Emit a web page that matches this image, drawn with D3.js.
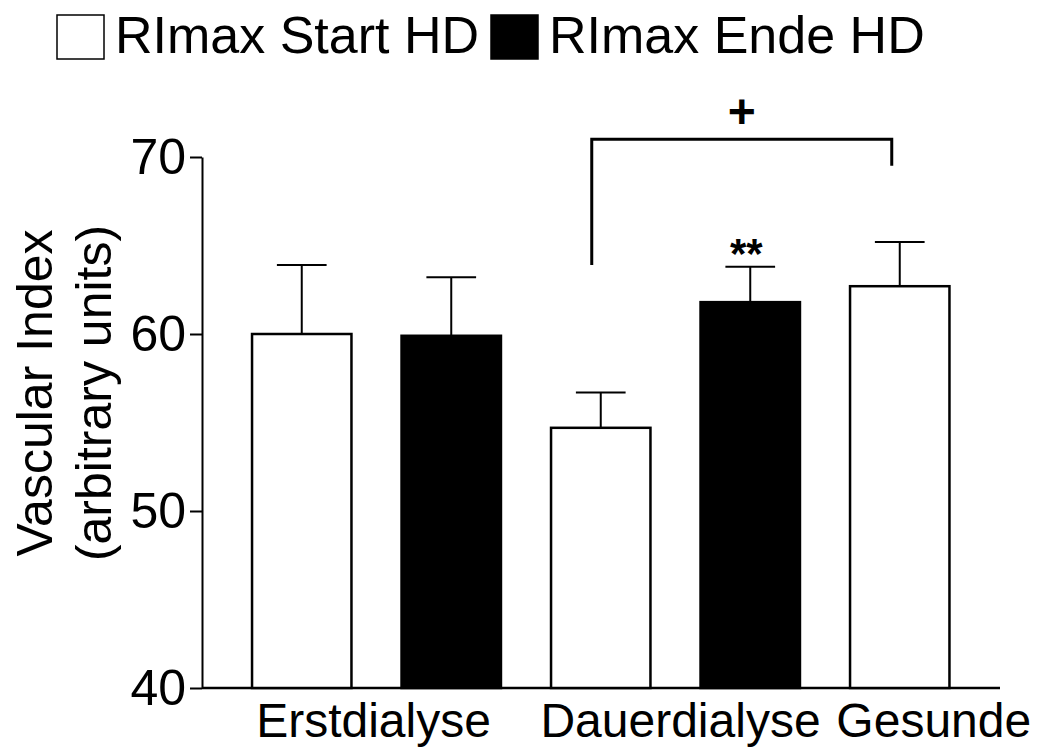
<!DOCTYPE html>
<html>
<head>
<meta charset="utf-8">
<script src="https://cdn.jsdelivr.net/npm/d3@7"></script>
<style>
  body { margin: 0; background: #fff; }
  svg { display: block; font-family: "Liberation Sans", Arial, sans-serif; }
</style>
</head>
<body>
<svg id="chart" width="1051" height="749"></svg>
<script>
// data
var barIds = ["b1", "b2", "b3", "b4", "b5"];
var barMeans = [60.0, 59.9, 54.7, 61.8, 62.7];
var barSem = [3.9, 3.3, 2.0, 2.0, 2.5];
var barSeries = ["start", "ende", "start", "ende", "start"];
var groupLabels = ["Erstdialyse", "Dauerdialyse", "Gesunde"];
var groupBars = [["b1", "b2"], ["b3", "b4"], ["b5"]];
var yTicks = [40, 50, 60, 70];
var legendLabels = ["RImax Start HD", "RImax Ende HD"];
var fills = { start: "#fff", ende: "#000" };

var svg = d3.select("#chart");

var y = d3.scaleLinear().domain([40, 70]).range([688, 157]);
var x = d3.scaleBand().domain(barIds).range([227, 974.5])
    .paddingInner(0.335).paddingOuter(0.1675);

// y axis
var yAxis = svg.append("g")
    .attr("transform", "translate(202,0)")
    .call(d3.axisLeft(y).tickValues(yTicks).tickSize(12).tickSizeOuter(0).tickPadding(4));
yAxis.select(".domain").attr("stroke", "#000").attr("stroke-width", 2);
yAxis.selectAll(".tick line").attr("stroke", "#000").attr("stroke-width", 2);
yAxis.selectAll(".tick text")
    .attr("fill", "#000")
    .style("font-size", "50px")
    .style("font-family", "'Liberation Sans', Arial, sans-serif");

// x baseline
svg.append("line")
    .attr("x1", 202).attr("x2", 1000)
    .attr("y1", y(40)).attr("y2", y(40))
    .attr("stroke", "#000").attr("stroke-width", 2.5);

// bars
var bars = barIds.map(function(id, i) {
  return { id: id, mean: barMeans[i], sem: barSem[i], series: barSeries[i] };
});

svg.selectAll("rect.bar").data(bars).enter().append("rect")
    .attr("class", "bar")
    .attr("x", function(d) { return x(d.id); })
    .attr("y", function(d) { return y(d.mean); })
    .attr("width", x.bandwidth())
    .attr("height", function(d) { return y(40) - y(d.mean); })
    .attr("fill", function(d) { return fills[d.series]; })
    .attr("stroke", "#000").attr("stroke-width", 2.5);

// error bars (upper only)
var err = svg.selectAll("g.err").data(bars).enter().append("g").attr("class", "err");
err.append("line")
    .attr("x1", function(d) { return x(d.id) + x.bandwidth() / 2; })
    .attr("x2", function(d) { return x(d.id) + x.bandwidth() / 2; })
    .attr("y1", function(d) { return y(d.mean); })
    .attr("y2", function(d) { return y(d.mean + d.sem); })
    .attr("stroke", "#000").attr("stroke-width", 2);
err.append("line")
    .attr("x1", function(d) { return x(d.id) + x.bandwidth() / 4; })
    .attr("x2", function(d) { return x(d.id) + x.bandwidth() * 3 / 4; })
    .attr("y1", function(d) { return y(d.mean + d.sem); })
    .attr("y2", function(d) { return y(d.mean + d.sem); })
    .attr("stroke", "#000").attr("stroke-width", 2);

// category labels
var labelShift = [-3, 5, 34];
groupLabels.forEach(function(lab, i) {
  var cx = d3.mean(groupBars[i], function(id) { return x(id) + x.bandwidth() / 2; });
  svg.append("text")
      .attr("x", cx + labelShift[i])
      .attr("y", 737)
      .attr("text-anchor", "middle")
      .style("font-size", "48px")
      .text(lab);
});

// y axis title
var title = svg.append("text")
    .attr("transform", "translate(0,393) rotate(-90)")
    .attr("text-anchor", "middle")
    .style("font-size", "50px");
title.append("tspan").attr("x", 0).attr("y", 52).text("Vascular Index");
title.append("tspan").attr("x", 0).attr("y", 111).text("(arbitrary units)");

// significance: ** above bar 4
var b4 = bars[3];
svg.append("text")
    .attr("x", x(b4.id) + x.bandwidth() / 2 - 4)
    .attr("y", y(b4.mean + b4.sem) + 1)
    .attr("text-anchor", "middle")
    .style("font-size", "42px").style("font-weight", "bold")
    .text("**");

// bracket between Dauerdialyse start and Gesunde
var bx1 = x("b3") + x.bandwidth() / 2 - 9;
var bx2 = x("b5") + x.bandwidth() / 2 - 8;
svg.append("path")
    .attr("d", "M" + bx1 + "," + y(63.9) + "V" + y(71.0) + "H" + bx2 + "V" + y(69.5))
    .attr("fill", "none").attr("stroke", "#000").attr("stroke-width", 3);
svg.append("text")
    .attr("x", (bx1 + bx2) / 2)
    .attr("y", 128)
    .attr("text-anchor", "middle")
    .style("font-size", "48px").style("font-weight", "bold")
    .text("+");

// legend
var legX = [57, 491];
legendLabels.forEach(function(lab, i) {
  var s = i === 0 ? "start" : "ende";
  svg.append("rect")
      .attr("x", legX[i]).attr("y", 15)
      .attr("width", 47).attr("height", 44)
      .attr("fill", fills[s]).attr("stroke", "#000").attr("stroke-width", 1.5);
  svg.append("text")
      .attr("x", legX[i] + 58).attr("y", 53)
      .style("font-size", "52px")
      .text(lab);
});
</script>
</body>
</html>
